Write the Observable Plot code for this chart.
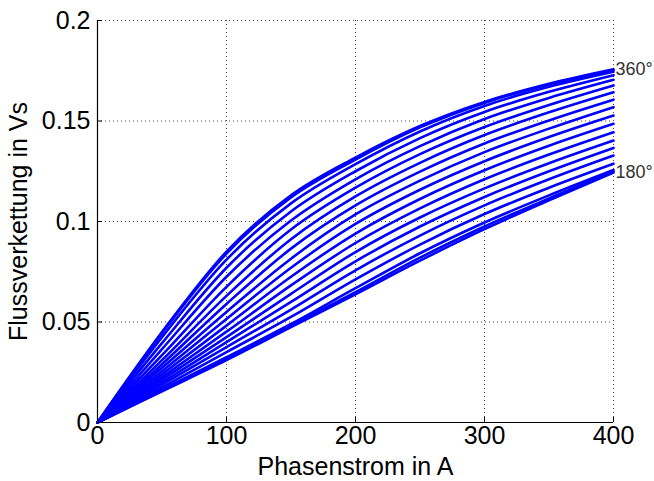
<!DOCTYPE html>
<html>
<head>
<meta charset="utf-8">
<script src="https://cdn.jsdelivr.net/npm/d3@7"></script>
<script src="https://cdn.jsdelivr.net/npm/@observablehq/plot@0.6"></script>
<style>
  html, body { margin: 0; padding: 0; background: #fff; }
  svg { font-family: "Liberation Sans", Arial, sans-serif; }
</style>
</head>
<body>
<div id="chart"></div>
<script>
// Phase current (A)
const current = [0, 50, 100, 150, 200, 250, 300, 350, 400];
// Rotor angle of each curve (degrees)
const angles = [360, 350, 340, 330, 320, 310, 300, 290, 280, 270, 260, 250, 240, 230, 220, 210, 200, 190, 180];
// Flux linkage (Vs) per angle
const f360 = [0, 0.0450, 0.0850, 0.1130, 0.1318, 0.1475, 0.1595, 0.1685, 0.1757];
const f350 = [0, 0.0445, 0.0840, 0.1120, 0.1308, 0.1468, 0.1590, 0.1682, 0.1753];
const f340 = [0, 0.0425, 0.0810, 0.1090, 0.1285, 0.1448, 0.1575, 0.1670, 0.1745];
const f330 = [0, 0.0395, 0.0770, 0.1050, 0.1250, 0.1415, 0.1545, 0.1645, 0.1728];
const f320 = [0, 0.0365, 0.0725, 0.1005, 0.1210, 0.1375, 0.1510, 0.1615, 0.1705];
const f310 = [0, 0.0335, 0.0675, 0.0960, 0.1168, 0.1335, 0.1470, 0.1580, 0.1677];
const f300 = [0, 0.0310, 0.0630, 0.0912, 0.1125, 0.1292, 0.1430, 0.1543, 0.1643];
const f290 = [0, 0.0290, 0.0590, 0.0865, 0.1080, 0.1248, 0.1388, 0.1503, 0.1606];
const f280 = [0, 0.0272, 0.0550, 0.0815, 0.1035, 0.1203, 0.1345, 0.1462, 0.1569];
const f270 = [0, 0.0255, 0.0515, 0.0770, 0.0988, 0.1158, 0.1300, 0.1420, 0.1527];
const f260 = [0, 0.0240, 0.0482, 0.0725, 0.0940, 0.1112, 0.1255, 0.1377, 0.1486];
const f250 = [0, 0.0226, 0.0452, 0.0682, 0.0893, 0.1065, 0.1210, 0.1333, 0.1444];
const f240 = [0, 0.0213, 0.0425, 0.0640, 0.0848, 0.1020, 0.1165, 0.1290, 0.1403];
const f230 = [0, 0.0200, 0.0400, 0.0600, 0.0802, 0.0975, 0.1122, 0.1250, 0.1366];
const f220 = [0, 0.0188, 0.0375, 0.0562, 0.0757, 0.0930, 0.1080, 0.1210, 0.1328];
const f210 = [0, 0.0175, 0.0350, 0.0525, 0.0712, 0.0885, 0.1037, 0.1168, 0.1287];
const f200 = [0, 0.0163, 0.0325, 0.0490, 0.0668, 0.0842, 0.0995, 0.1130, 0.1256];
const f190 = [0, 0.0158, 0.0315, 0.0480, 0.0648, 0.0820, 0.0975, 0.1115, 0.1248];
const f180 = [0, 0.0155, 0.0310, 0.0475, 0.0638, 0.0805, 0.0962, 0.1105, 0.1243];
const seriesList = [f360, f350, f340, f330, f320, f310, f300, f290, f280, f270, f260, f250, f240, f230, f220, f210, f200, f190, f180];

// Axis ticks
const xTicks = [0, 100, 200, 300, 400];
const yTicks = [0, 0.05, 0.1, 0.15, 0.2];
const yTickLabels = ["0", "0.05", "0.1", "0.15", "0.2"];
// Curve annotations
const annotAngles = [360, 180];
const annotLabels = ["360°", "180°"];

const rows = [];
angles.forEach((a, i) => {
  current.forEach((c, j) => rows.push({angle: a, current: c, flux: seriesList[i][j]}));
});
const annots = annotAngles.map((a, k) => {
  const s = seriesList[angles.indexOf(a)];
  return {label: annotLabels[k], current: current[current.length - 1], flux: s[s.length - 1]};
});

const grid = {stroke: "#444", strokeOpacity: 1, strokeWidth: 1, strokeDasharray: "1,3"};
const chart = Plot.plot({
  width: 654,
  height: 481,
  marginLeft: 97,
  marginRight: 41,
  marginTop: 20,
  marginBottom: 59,
  style: {fontFamily: "'Liberation Sans', Arial, sans-serif", fontSize: "24px", color: "#000", background: "#fff"},
  x: {domain: [0, 400]},
  y: {domain: [0, 0.2]},
  marks: [
    Plot.ruleX(xTicks.slice(1), grid),
    Plot.ruleY(yTicks.slice(1), grid),
    Plot.line(rows, {x: "current", y: "flux", z: "angle", stroke: "#0000ff", strokeWidth: 2.6, curve: "monotone-x"}),
    Plot.axisX({ticks: xTicks, tickSize: -5, tickPadding: 9, fontSize: 25, label: "Phasenstrom in A", labelAnchor: "center", labelArrow: "none", labelOffset: 52, fontSize: 25}),
    Plot.axisY({ticks: yTicks, tickSize: -5, tickPadding: 12, fontSize: 25, tickFormat: d => yTickLabels[yTicks.indexOf(d)], label: "Flussverkettung in Vs", labelAnchor: "center", labelArrow: "none", labelOffset: 88}),
    Plot.ruleX([0], {stroke: "#000", strokeWidth: 1.2}),
    Plot.ruleY([0], {stroke: "#000", strokeWidth: 1.2}),
    Plot.text(annots, {x: "current", y: "flux", text: "label", textAnchor: "start", dx: 2, fontSize: 18, fill: "#333"})
  ]
});
document.getElementById("chart").appendChild(chart);
</script>
</body>
</html>
